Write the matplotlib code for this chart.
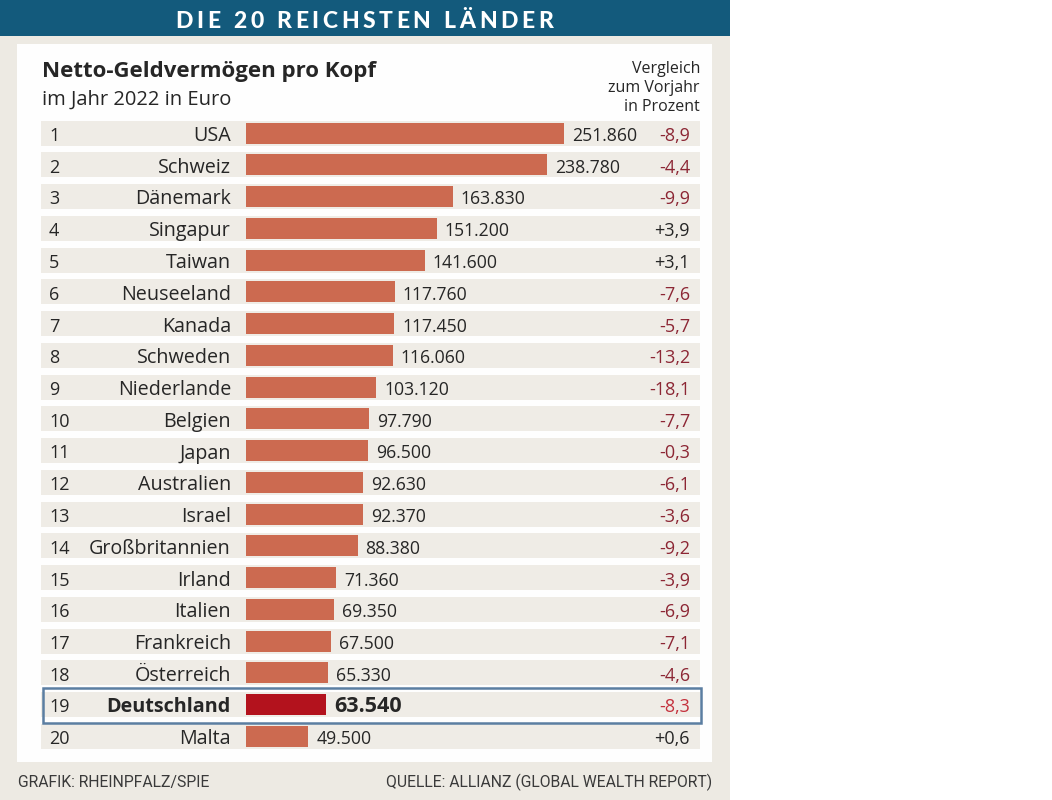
#!/usr/bin/env python3
"""Die 20 reichsten Länder – Netto-Geldvermögen pro Kopf 2022"""
import matplotlib
matplotlib.use('Agg')
import matplotlib.pyplot as plt
from matplotlib.patches import Rectangle

# ─── Data ─────────────────────────────────────────────────────────────────────
ranks = list(range(1, 21))
countries = ['USA', 'Schweiz', 'Dänemark', 'Singapur', 'Taiwan', 'Neuseeland',
             'Kanada', 'Schweden', 'Niederlande', 'Belgien', 'Japan',
             'Australien', 'Israel', 'Großbritannien', 'Irland', 'Italien',
             'Frankreich', 'Österreich', 'Deutschland', 'Malta']
wealth = [251860, 238780, 163830, 151200, 141600, 117760, 117450, 116060,
          103120, 97790, 96500, 92630, 92370, 88380, 71360, 69350, 67500,
          65330, 63540, 49500]
change = [-8.9, -4.4, -9.9, 3.9, 3.1, -7.6, -5.7, -13.2, -18.1, -7.7, -0.3,
          -6.1, -3.6, -9.2, -3.9, -6.9, -7.1, -4.6, -8.3, 0.6]
highlight = 'Deutschland'

# ─── Style ────────────────────────────────────────────────────────────────────
FONT = 'Open Sans'
C_HEAD = '#135a7c'
C_BG = '#edeae3'
C_BAND = '#efece6'
C_BAR = '#cc6a50'
C_BAR_HI = '#b3121d'
C_NEG = '#8c2634'
C_NEG_HI = '#c4303c'
C_TXT = '#262626'
C_BOX = '#5b7ea1'

W, H = 1052, 800
fig = plt.figure(figsize=(W / 100, H / 100), dpi=100)
fig.patch.set_facecolor('white')

# pixel-space axes for decoration
ax = fig.add_axes([0, 0, 1, 1])
ax.set_xlim(0, W)
ax.set_ylim(H, 0)
ax.axis('off')

ax.add_patch(Rectangle((0, 0), 730, H, facecolor=C_BG, edgecolor='none', zorder=0))
ax.add_patch(Rectangle((0, 0), 730, 36, facecolor=C_HEAD, edgecolor='none', zorder=1))
ax.add_patch(Rectangle((17, 44), 695, 718, facecolor='#fefefe', edgecolor='none', zorder=1))


def spaced_text(ax, cx, y, text, tracking, **kw):
    """Draw letter-spaced text centred at cx."""
    r = fig.canvas.get_renderer()
    inv = ax.transData.inverted()
    widths = []
    for ch in text:
        if ch == ' ':
            widths.append(None)
            continue
        t = ax.text(0, 0, ch, **kw)
        bb = t.get_window_extent(r)
        p0 = inv.transform((bb.x0, bb.y0))
        p1 = inv.transform((bb.x1, bb.y0))
        widths.append(abs(p1[0] - p0[0]))
        t.remove()
    sp = 6.0
    total = sum(w if w is not None else sp for w in widths) + tracking * (len(text) - 1)
    x = cx - total / 2
    for ch, w in zip(text, widths):
        if w is None:
            x += sp + tracking
            continue
        ax.text(x, y, ch, ha='left', **kw)
        x += w + tracking


spaced_text(ax, 364, 28, 'DIE 20 REICHSTEN LÄNDER', 3.6, family='Lato',
            fontweight='black', fontsize=16.5, color='white', va='baseline', zorder=3)

ax.text(42, 77, 'Netto-Geldvermögen pro Kopf', family=FONT, fontweight='bold',
        fontsize=16, color=C_TXT, va='baseline', zorder=3)
ax.text(42, 105, 'im Jahr 2022 in Euro', family=FONT, fontsize=14.5,
        color=C_TXT, va='baseline', zorder=3)
for yy, line in zip([73, 92, 111], ['Vergleich', 'zum Vorjahr', 'in Prozent']):
    ax.text(700, yy, line, family=FONT, fontsize=11.5, color=C_TXT,
            ha='right', va='baseline', zorder=3)

FOOT = ['Liberation Sans Narrow', 'Roboto']
ax.text(18, 787, 'GRAFIK: RHEINPFALZ/SPIE', family=FOOT,
        fontsize=11.3, color='#3a3a3a', va='baseline', zorder=3)
ax.text(712, 787, 'QUELLE: ALLIANZ (GLOBAL WEALTH REPORT)', family=FOOT,
        fontsize=11.3, color='#3a3a3a', ha='right', va='baseline', zorder=3)

# rows
Y0, DY = 133, 31.75
ys = [Y0 + i * DY for i in range(len(countries))]

for y, rk, name, ch in zip(ys, ranks, countries, change):
    hi = name == highlight
    ax.add_patch(Rectangle((41, y - 12.5), 659, 25, facecolor=C_BAND,
                           edgecolor='none', zorder=2))
    ax.text(49, y + 8, str(rk), family=FONT, fontsize=13, color=C_TXT,
            va='baseline', zorder=3)
    ax.text(231, y + 8, name, family=FONT, fontsize=14.2,
            fontweight='bold' if hi else 'normal', color=C_TXT,
            ha='right', va='baseline', zorder=3)
    s = f'{ch:+.1f}'.replace('.', ',')
    col = (C_NEG_HI if hi else C_NEG) if ch < 0 else C_TXT
    ax.text(690, y + 8, s, family=FONT, fontsize=13, color=col,
            ha='right', va='baseline', zorder=3)
    if hi:
        ax.add_patch(Rectangle((43, y - 17), 658, 35, facecolor='none',
                               edgecolor=C_BOX, lw=1.8, zorder=4))

# bar axes in euro units, aligned to pixel layout
k = 318 / 251860
bx = fig.add_axes([0, 0, 1, 1])
bx.patch.set_alpha(0)
bx.set_xlim(-246 / k, (W - 246) / k)
bx.set_ylim(H, 0)
bx.axis('off')

colors = [C_BAR_HI if c == highlight else C_BAR for c in countries]
bx.barh(ys, wealth, height=21, color=colors, zorder=3)
for y, v, name in zip(ys, wealth, countries):
    hi = name == highlight
    lab = f'{v:,}'.replace(',', '.')
    bx.annotate(lab, xy=(v, y + 8), xytext=(8, 0), textcoords='offset pixels',
                family=FONT, fontsize=15.5 if hi else 12.7,
                fontweight='bold' if hi else 'normal', color=C_TXT,
                ha='left', va='baseline', annotation_clip=False)

fig.savefig('out.png', dpi=100, facecolor='white')
